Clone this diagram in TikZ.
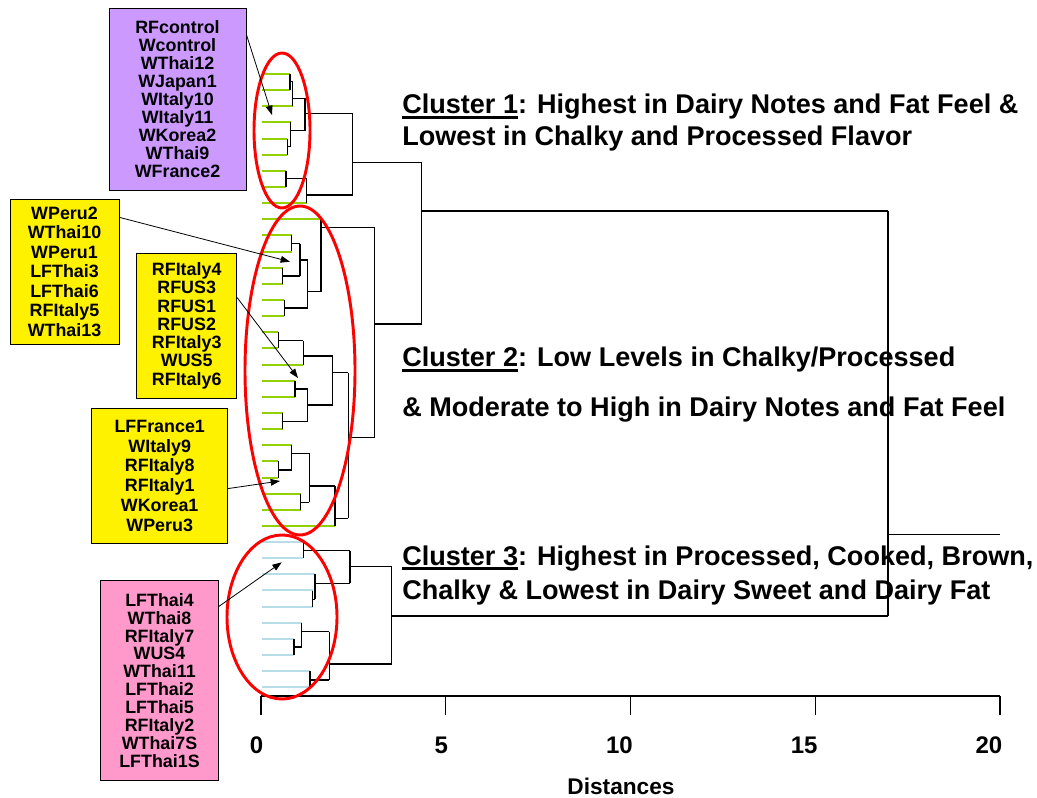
\documentclass[tikz,border=0pt]{standalone}
\usepackage{fontspec}
\setmainfont{Liberation Sans}
\usetikzlibrary{arrows.meta,calc}
\definecolor{leafgreen}{RGB}{146,208,0}
\definecolor{leafblue}{RGB}{182,221,232}
\definecolor{lavbox}{RGB}{204,153,255}
\definecolor{pinkbox}{RGB}{255,153,204}
\newsavebox{\clubox}
\newcommand{\clu}[1]{\sbox{\clubox}{#1}\rlap{\rule[-3.6pt]{\wd\clubox}{1.8pt}}\usebox{\clubox}}
\newcommand{\boxfont}[1]{\bfseries\fontsize{13.4}{#1}\selectfont}

\begin{document}
\begin{tikzpicture}[x=0.75pt, y=-0.75pt,
    link/.style={line width=1.05pt},
    leafA/.style={line width=1.5pt, draw=leafgreen},
    leafB/.style={line width=1.5pt, draw=leafblue},
    ring/.style={draw=red, line width=2.2pt},
    pointer/.style={-{Triangle[length=7pt,width=5pt]}, line width=0.6pt},
    tagbox/.style={draw, line width=0.6pt, inner sep=0pt, align=center},
    note/.style={anchor=base west, inner sep=0pt, font=\fontsize{20.3}{24}\selectfont\bfseries}]
  \useasboundingbox (0,0) rectangle (1037,798);
  % leaves
  \foreach \i/\xe in {0/290, 1/290, 2/292.7, 3/290.7, 4/287.3, 5/287.3, 6/286, 7/286, 8/306.7,
      9/321, 10/291.7, 11/291.7, 12/282.7, 13/282.7, 14/284.3, 15/284.3, 16/278.3, 17/278.3,
      18/303.3, 19/295, 20/295, 21/282.7, 22/282.7, 23/291.7, 24/278.3, 25/278.3, 26/300.7,
      27/300.7, 28/335}
    \draw[leafA] (262,{74+16.14*\i}) -- (\xe,{74+16.14*\i});
  \foreach \i/\xe in {29/303.3, 30/303.3, 31/315, 32/312.7, 33/312.7, 34/301.7, 35/294, 36/294,
      37/310, 38/310}
    \draw[leafB] (262,{74+16.14*\i}) -- (\xe,{74+16.14*\i});
  % joins: x / top / bottom / out / parent
  \foreach \x/\ya/\yb/\yo/\xp in {
      290/74/90.1/81.7/292.7, 292.7/81.7/106.3/98.3/305, 287.3/138.6/154.7/146.7/290.7,
      290.7/122.4/146.7/130.7/305, 305/98.3/130.7/113.3/352.7, 286/170.8/187/178.3/306.7,
      306.7/178.3/203.1/195/352.7, 352.7/113.3/195/162.7/421.7,
      291.7/235.4/251.5/243.7/300, 282.7/267.7/283.8/276/300, 300/243.7/276/260/307.7,
      284.3/300/316.1/308/307.7, 307.7/260/308/291.7/321, 321/219.3/291.7/227.7/374.6,
      278.3/332.2/348.4/340.7/303.3, 303.3/340.7/364.5/356/332.7, 295/380.7/396.8/389/307.7,
      282.7/412.9/429.1/421.7/307.7, 307.7/389/421.7/405/332.7, 332.7/356/405/372.7/348.3,
      278.3/461.4/477.5/470/291.7, 291.7/445.2/470/453.3/309.3, 300.7/493.6/509.8/502.3/309.3,
      309.3/453.3/502.3/486/335, 335/486/525.9/518.3/348.3, 348.3/372.7/518.3/437.3/374.6,
      374.6/227.7/437.3/324/421.7, 421.7/162.7/324/211/888,
      303.3/542.1/558.2/550.7/350, 312.7/590.5/606.6/599.3/315, 315/574.3/599.3/583.3/350,
      350/550.7/583.3/566.7/391.7, 294/638.9/655/647/301.7, 301.7/622.8/647/631.7/329.3,
      310/671.2/687.3/680/329.3, 329.3/631.7/680/664/391.7, 391.7/566.7/664/616/888,
      888/211/616/534.3/1000} {
    \draw[link] (\x,\ya) -- (\x,\yb);
    \draw[link] (\x,\yo) -- (\xp,\yo);
  }
  % axis
  \draw[link] (261,696) -- (1000,696);
  \foreach \d in {0,5,...,20} {
    \draw[link] ({261+36.95*\d},696) -- ({261+36.95*\d},715);
    \node[anchor=east, inner sep=0pt, font=\fontsize{18}{20}\selectfont\bfseries] (tick\d) at ({263.5+36.95*\d},745) {\d};
  }
  \node[font=\fontsize{17}{20}\selectfont\bfseries] (xlab) at (621,786) {Distances};
  % cluster rings
  \draw[ring] (282,130.5) ellipse [x radius=28, y radius=77.5];
  \draw[ring] (300,370.5) ellipse [x radius=55, y radius=164.5];
  \draw[ring] (282,617) ellipse [x radius=55, y radius=82];
  % cluster notes
  \node[note] (c1a) at (402,114) {\clu{Cluster 1}: Highest in Dairy Notes and Fat Feel \&};
  \node[note] (c1b) at (402,146) {Lowest in Chalky and Processed Flavor};
  \node[note] (c2a) at (402,366.7) {\clu{Cluster 2}: Low Levels in Chalky/Processed};
  \node[note] (c2b) at (402,416.7) {\& Moderate to High in Dairy Notes and Fat Feel};
  \node[note] (c3a) at (402,565) {\clu{Cluster 3}: Highest in Processed, Cooked, Brown,};
  \node[note] (c3b) at (402,599.3) {Chalky \& Lowest in Dairy Sweet and Dairy Fat};
  % sample boxes
  \node[tagbox, fill=lavbox, minimum width=102.8pt, minimum height=136.5pt, font=\boxfont{13.5}]
    (purp) at (177.5,99) {RFcontrol\\Wcontrol\\WThai12\\WJapan1\\WItaly10\\WItaly11\\WKorea2\\WThai9\\WFrance2};
  \node[tagbox, fill=yellow, minimum width=81.8pt, minimum height=108.5pt, font=\boxfont{14.6}]
    (yel1) at (64.5,271.7) {WPeru2\\WThai10\\WPeru1\\LFThai3\\LFThai6\\RFItaly5\\WThai13};
  \node[tagbox, fill=yellow, minimum width=75pt, minimum height=108.8pt, font=\boxfont{13.7}]
    (yel2) at (186.7,325.8) {RFItaly4\\RFUS3\\RFUS1\\RFUS2\\RFItaly3\\WUS5\\RFItaly6};
  \node[tagbox, fill=yellow, minimum width=102pt, minimum height=101.3pt, font=\boxfont{14.9}]
    (yel3) at (159.7,475.8) {LFFrance1\\WItaly9\\RFItaly8\\RFItaly1\\WKorea1\\WPeru3};
  \node[tagbox, fill=pinkbox, minimum width=88.2pt, minimum height=149.5pt, font=\boxfont{13.4}]
    (pink) at (159.5,680.3) {LFThai4\\WThai8\\RFItaly7\\WUS4\\WThai11\\LFThai2\\LFThai5\\RFItaly2\\WThai7S\\LFThai1S};
  % pointers
  \coordinate (tipP) at (272,115);
  \coordinate (tipY1) at (290,261.7);
  \coordinate (tipY2) at (298,378);
  \coordinate (tipY3) at (280,481);
  \coordinate (tipK) at (281.7,562.3);
  \draw[pointer] ($(purp.north east)+(0,27)$) -- (tipP);
  \draw[pointer] ($(yel1.north east)+(0,18.4)$) -- (tipY1);
  \draw[pointer] ($(yel2.north east)+(0,44.7)$) -- (tipY2);
  \draw[pointer] ($(yel3.north east)+(0,80.7)$) -- (tipY3);
  \draw[pointer] ($(pink.north east)+(0,26.3)$) -- (tipK);
\end{tikzpicture}
\end{document}
